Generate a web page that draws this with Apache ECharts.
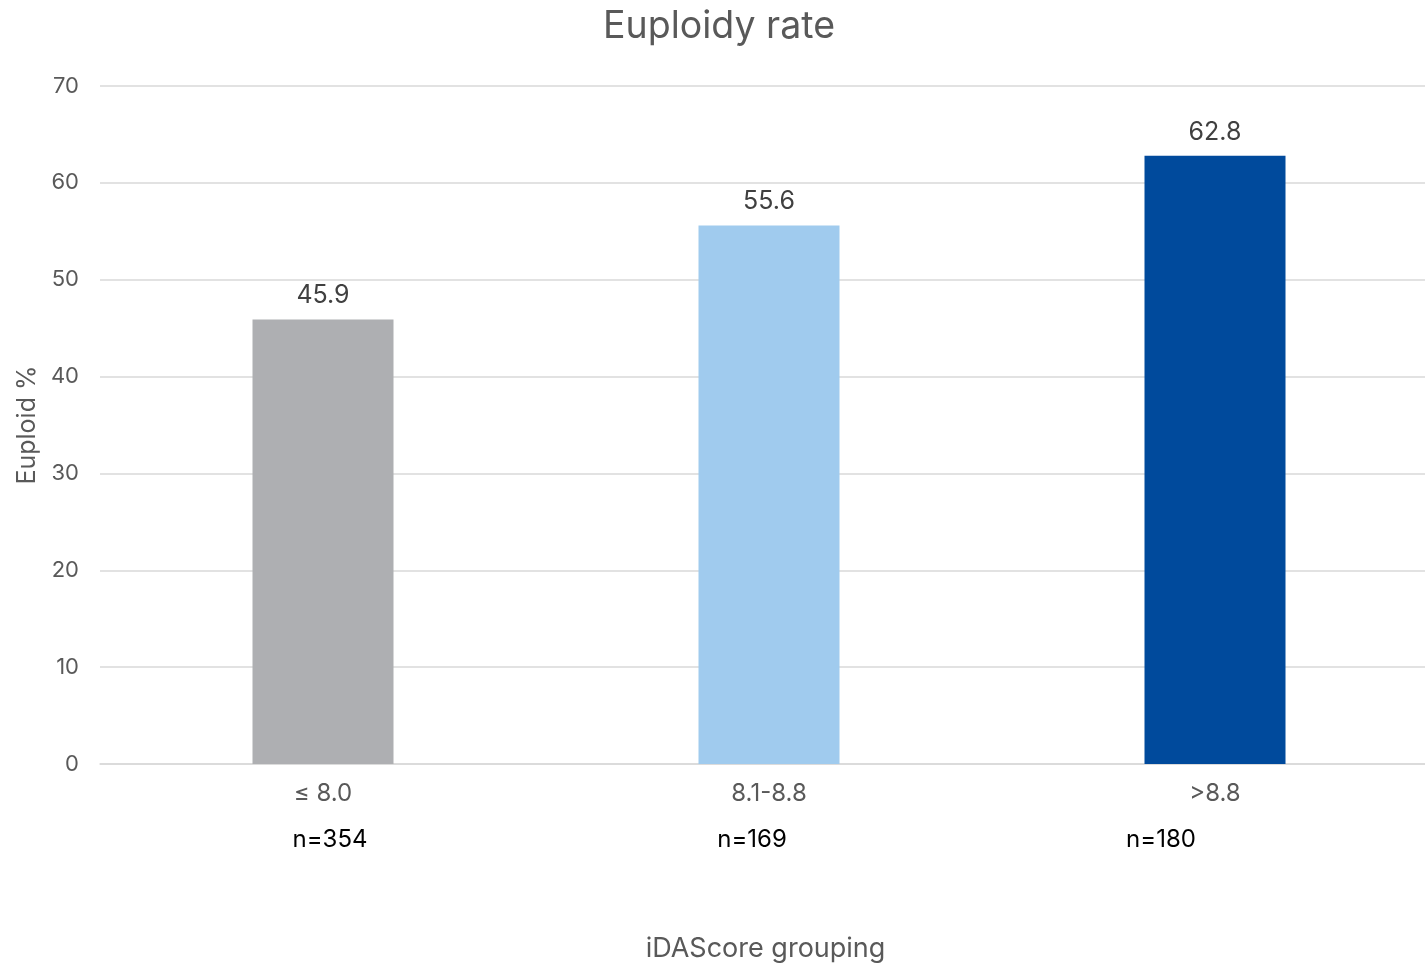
<!DOCTYPE html>
<html><head><meta charset="utf-8">
<script src="https://cdn.jsdelivr.net/npm/echarts@6/dist/echarts.min.js"></script>
<style>html,body{margin:0;padding:0;background:#fff;overflow:hidden;width:1425px;height:967px}#c{width:1438px;height:967px}</style>
</head><body><div id="c"></div>
<script>
const categories = ['\u2264 8.0', '8.1-8.8', '>8.8'];
const values = [45.9, 55.6, 62.8];
const colors = ['#AEAFB2', '#A0CBEE', '#004A9C'];
const nLabels = ['n=354', 'n=169', 'n=180'];
const nLabelX = [330, 752, 1161];

const chart = echarts.init(document.getElementById('c'));
const FONT = 'Inter';
chart.setOption({
  animation: false,
  textStyle: {fontFamily: FONT},
  title: {text: 'Euploidy rate', left: 714, top: 3, textAlign: 'center',
    textStyle: {fontFamily: FONT, fontSize: 37.5, fontWeight: 'normal', color: '#595959'}},
  grid: {left: 100, top: 86, right: 0, bottom: 203, containLabel: false},
  xAxis: {
    type: 'category', data: categories,
    axisLine: {lineStyle: {color: '#D9D9D9', width: 1.5}},
    axisTick: {show: false},
    axisLabel: {fontFamily: FONT, fontSize: 24, color: '#595959', margin: 18},
    name: 'iDAScore grouping', nameLocation: 'middle', nameGap: 171,
    nameTextStyle: {fontFamily: FONT, fontSize: 27, color: '#595959', padding: [0, 7, 0, 0]}
  },
  yAxis: {
    type: 'value', min: 0, max: 70, interval: 10,
    axisLine: {show: false}, axisTick: {show: false},
    splitLine: {lineStyle: {color: '#D9D9D9', width: 1.5}},
    axisLabel: {fontFamily: FONT, fontSize: 22, color: '#595959', margin: 21},
    name: 'Euploid %', nameLocation: 'middle', nameGap: 60,
    nameTextStyle: {fontFamily: FONT, fontSize: 25, color: '#595959'}
  },
  series: [{
    type: 'bar', barWidth: 141,
    data: values.map((v, i) => ({value: v, itemStyle: {color: colors[i]}})),
    label: {show: true, position: 'top', distance: 11, fontFamily: FONT, fontSize: 25, color: '#404040'}
  }],
  graphic: nLabels.map((t, i) => ({
    type: 'text', x: nLabelX[i], y: 840,
    style: {text: t, fontFamily: FONT, fontSize: 24, fill: '#000', textAlign: 'center', textVerticalAlign: 'middle'}
  }))
});
</script></body></html>
